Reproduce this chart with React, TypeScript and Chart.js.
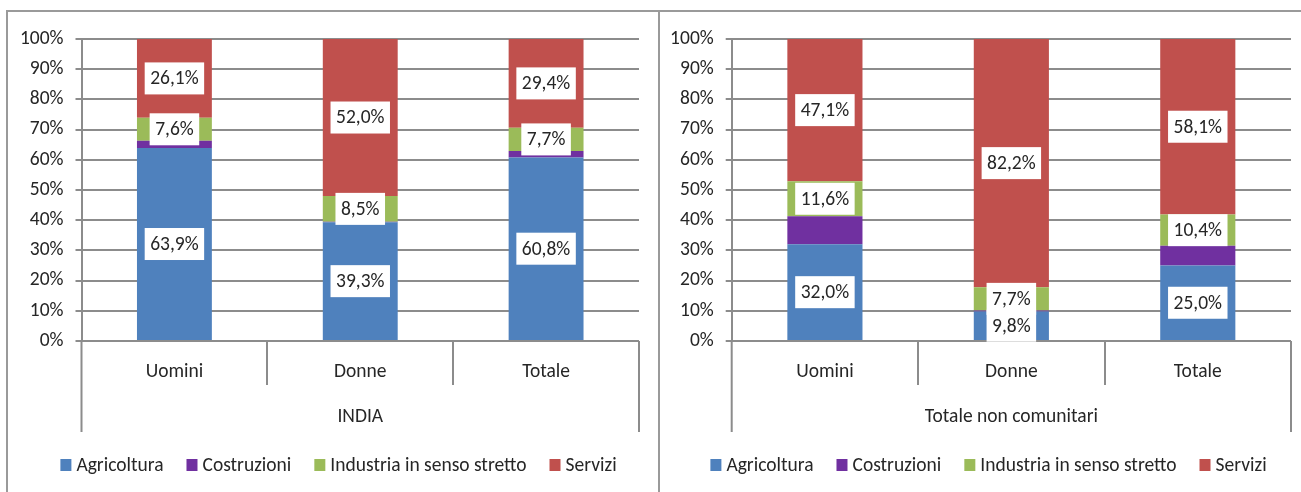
import React, { useEffect, useRef } from 'react';
import { Chart, registerables } from 'chart.js';

Chart.register(...registerables);

// ---------- data ----------
const categories = ['Uomini', 'Donne', 'Totale'];
const seriesNames = ['Agricoltura', 'Costruzioni', 'Industria in senso stretto', 'Servizi'];
const seriesColors = ['#4F81BD', '#7030A0', '#9BBB59', '#C0504D'];
const seriesShowLabel = [true, false, true, true];

const indiaAgricoltura = [63.9, 39.3, 60.8];
const indiaCostruzioni = [2.4, 0.2, 2.1];
const indiaIndustria = [7.6, 8.5, 7.7];
const indiaServizi = [26.1, 52.0, 29.4];

const ncAgricoltura = [32.0, 9.8, 25.0];
const ncCostruzioni = [9.3, 0.3, 6.5];
const ncIndustria = [11.6, 7.7, 10.4];
const ncServizi = [47.1, 82.2, 58.1];

const yMin = 0;
const yMax = 100;
const yStep = 10;

const groupIndia = 'INDIA';
const groupNonComunitari = 'Totale non comunitari';

// ---------- style ----------
const FONT = "Carlito, Calibri, 'Liberation Sans', sans-serif";
const FS = 19.5;
const GRID = '#8c8c8c';
const TEXT = '#262626';
const FRAME = '#9a9a9a';

const fmt = (v: number) => v.toFixed(1).replace('.', ',') + '%';

const valueLabels = {
  id: 'valueLabels',
  afterDatasetsDraw(chart: any) {
    const ctx = chart.ctx;
    ctx.save();
    ctx.font = `${FS}px ${FONT}`;
    ctx.textAlign = 'center';
    ctx.textBaseline = 'middle';
    const items: any[] = [];
    chart.data.datasets.forEach((ds: any, di: number) => {
      if (!ds.showLabel) return;
      const meta = chart.getDatasetMeta(di);
      meta.data.forEach((el: any, i: number) => {
        const { x, y, base } = el.getProps(['x', 'y', 'base'], true);
        const txt = fmt(ds.data[i]);
        const w = ctx.measureText(txt).width + 11;
        items.push({ x, cy: (y + base) / 2, txt, w });
      });
    });
    ctx.fillStyle = '#ffffff';
    items.forEach((it) => ctx.fillRect(it.x - it.w / 2, it.cy - 16, it.w, 32));
    ctx.fillStyle = TEXT;
    items.forEach((it) => ctx.fillText(it.txt, it.x, it.cy + 1));
    ctx.restore();
  },
};

const axisDecor = {
  id: 'axisDecor',
  afterDraw(chart: any, _args: any, opts: any) {
    const { ctx, chartArea } = chart;
    const xs = chart.scales.x;
    const n = chart.data.labels.length;
    ctx.save();
    ctx.strokeStyle = GRID;
    ctx.lineWidth = 2;
    ctx.beginPath();
    for (let i = 1; i < n; i++) {
      const px = Math.round((xs.getPixelForValue(i - 1) + xs.getPixelForValue(i)) / 2);
      ctx.moveTo(px, chartArea.bottom);
      ctx.lineTo(px, chartArea.bottom + 44);
    }
    [chartArea.left, chartArea.right].forEach((px: number) => {
      ctx.moveTo(px, chartArea.bottom);
      ctx.lineTo(px, chartArea.bottom + 91);
    });
    ctx.stroke();
    ctx.fillStyle = TEXT;
    ctx.font = `${FS}px ${FONT}`;
    ctx.textAlign = 'center';
    ctx.textBaseline = 'middle';
    ctx.fillText(opts.group, (chartArea.left + chartArea.right) / 2, chartArea.bottom + 76);

    // legend built from the datasets
    const ds = chart.data.datasets;
    const box = 11;
    const gap = 5;
    const itemGap = 23;
    const widths = ds.map((d: any) => box + gap + ctx.measureText(d.label).width);
    const total = widths.reduce((a: number, b: number) => a + b, 0) + itemGap * (ds.length - 1);
    let x = opts.legendCenter - total / 2;
    const cy = chartArea.bottom + 124;
    ctx.textAlign = 'left';
    ds.forEach((d: any, i: number) => {
      ctx.fillStyle = d.backgroundColor;
      ctx.fillRect(x, cy - 6, box, 12);
      ctx.fillStyle = TEXT;
      ctx.fillText(d.label, x + box + gap, cy + 1);
      x += widths[i] + itemGap;
    });
    ctx.restore();
  },
};

type PanelProps = {
  left: number;
  width: number;
  group: string;
  values: number[][];
  padRight: number;
  yWidth: number;
  legendCenter: number;
};

function Panel({ left, width, group, values, padRight, yWidth, legendCenter }: PanelProps) {
  const ref = useRef<HTMLCanvasElement>(null);
  useEffect(() => {
    if (!ref.current) return;
    const chart = new Chart(ref.current, {
      type: 'bar',
      data: {
        labels: categories,
        datasets: values.map((vals, i) => ({
          label: seriesNames[i],
          data: vals,
          backgroundColor: seriesColors[i],
          borderWidth: 0,
          categoryPercentage: 1,
          barPercentage: 0.403,
          showLabel: seriesShowLabel[i],
        })) as any,
      },
      options: {
        responsive: false,
        animation: false,
        layout: { padding: { left: 0, right: padRight, top: 27, bottom: 51 } },
        plugins: {
          legend: { display: false },
          tooltip: { enabled: false },
          axisDecor: { group, legendCenter },
        } as any,
        scales: {
          x: {
            stacked: true,
            grid: { display: false, drawTicks: false },
            border: { display: false },
            ticks: { color: TEXT, font: { family: FONT, size: FS }, padding: 19, maxRotation: 0 },
            afterFit: (s: any) => {
              s.height = 100;
            },
          },
          y: {
            stacked: true,
            min: yMin,
            max: yMax,
            ticks: {
              stepSize: yStep,
              autoSkip: false,
              color: TEXT,
              font: { family: FONT, size: FS },
              padding: 12,
              callback: (v: any) => v + '%',
            },
            grid: { color: GRID, lineWidth: 2, tickLength: 6 },
            border: { display: true, color: GRID, width: 2 },
            afterFit: (s: any) => {
              s.width = yWidth;
            },
          },
        },
      },
      plugins: [valueLabels, axisDecor],
    });
    return () => chart.destroy();
  }, []);
  return (
    <canvas
      ref={ref}
      width={width}
      height={480}
      style={{ position: 'absolute', left, top: 12, width, height: 480, display: 'block' }}
    />
  );
}

export default function App() {
  return (
    <div
      style={{
        position: 'absolute',
        left: 0,
        top: 0,
        width: 1301,
        height: 492,
        overflow: 'hidden',
        background: '#ffffff',
      }}
    >
      <div
        style={{
          position: 'absolute',
          left: 6,
          top: 10,
          width: 654,
          height: 520,
          boxSizing: 'border-box',
          border: `2px solid ${FRAME}`,
        }}
      />
      <div
        style={{
          position: 'absolute',
          left: 658,
          top: 10,
          width: 700,
          height: 520,
          boxSizing: 'border-box',
          borderTop: `2px solid ${FRAME}`,
        }}
      />
      <Panel
        left={8}
        width={650}
        group={groupIndia}
        values={[indiaAgricoltura, indiaCostruzioni, indiaIndustria, indiaServizi]}
        padRight={19}
        yWidth={73.5}
        legendCenter={330.5}
      />
      <Panel
        left={660}
        width={641}
        group={groupNonComunitari}
        values={[ncAgricoltura, ncCostruzioni, ncIndustria, ncServizi]}
        padRight={10}
        yWidth={71.7}
        legendCenter={328.5}
      />
    </div>
  );
}
